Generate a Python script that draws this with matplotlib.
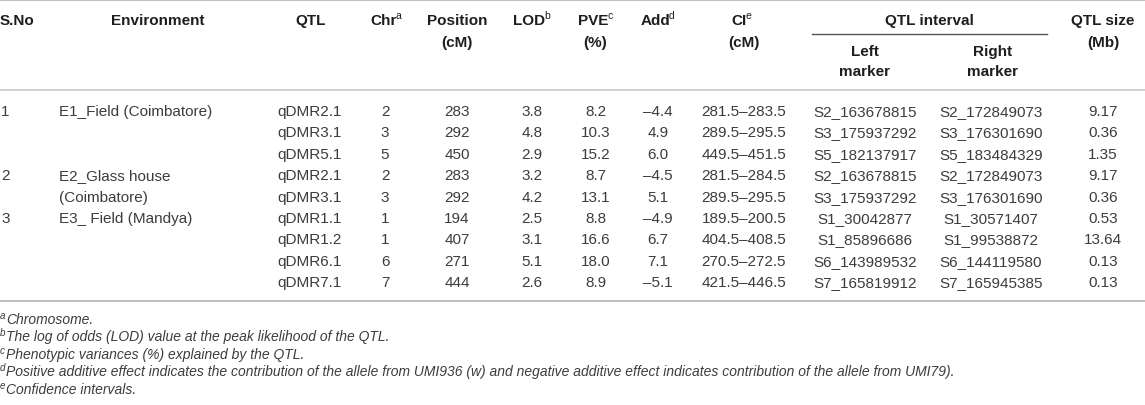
import matplotlib.pyplot as plt

plt.rcParams['font.family'] = ['Liberation Sans', 'DejaVu Sans']

# ---- table data ----
sno = ["1", "", "", "2", "", "3", "", "", ""]
environment = ["E1_Field (Coimbatore)", "", "", "E2_Glass house", "(Coimbatore)",
               "E3_ Field (Mandya)", "", "", ""]
qtl = ["qDMR2.1", "qDMR3.1", "qDMR5.1", "qDMR2.1", "qDMR3.1",
       "qDMR1.1", "qDMR1.2", "qDMR6.1", "qDMR7.1"]
chrom = [2, 3, 5, 2, 3, 1, 1, 6, 7]
position = [283, 292, 450, 283, 292, 194, 407, 271, 444]
lod = [3.8, 4.8, 2.9, 3.2, 4.2, 2.5, 3.1, 5.1, 2.6]
pve = [8.2, 10.3, 15.2, 8.7, 13.1, 8.8, 16.6, 18.0, 8.9]
add = [-4.4, 4.9, 6.0, -4.5, 5.1, -4.9, 6.7, 7.1, -5.1]
ci = ["281.5–283.5", "289.5–295.5", "449.5–451.5", "281.5–284.5", "289.5–295.5",
      "189.5–200.5", "404.5–408.5", "270.5–272.5", "421.5–446.5"]
left_marker = ["S2_163678815", "S3_175937292", "S5_182137917", "S2_163678815",
               "S3_175937292", "S1_30042877", "S1_85896686", "S6_143989532",
               "S7_165819912"]
right_marker = ["S2_172849073", "S3_176301690", "S5_183484329", "S2_172849073",
                "S3_176301690", "S1_30571407", "S1_99538872", "S6_144119580",
                "S7_165945385"]
qtl_size = ["9.17", "0.36", "1.35", "9.17", "0.36", "0.53", "13.64", "0.13", "0.13"]

footnotes = [
    ("a", "Chromosome."),
    ("b", "The log of odds (LOD) value at the peak likelihood of the QTL."),
    ("c", "Phenotypic variances (%) explained by the QTL."),
    ("d", "Positive additive effect indicates the contribution of the allele from UMI936 (w) "
          "and negative additive effect indicates contribution of the allele from UMI79)."),
    ("e", "Confidence intervals."),
]

# ---- canvas in pixel coordinates ----
W, H = 1145, 406
fig = plt.figure(figsize=(W / 100, H / 100), dpi=100)
ax = fig.add_axes([0, 0, 1, 1])
ax.set_xlim(0, W)
ax.set_ylim(H, 0)
ax.axis('off')

fs = 11
data_col = '#3c3c3c'
head_col = '#1e1e1e'
line_col = '#c8c8c8'


def fmt_num(v):
    s = f"{abs(v):.1f}"
    return ("–" + s) if v < 0 else s


# horizontal rules
ax.plot([0, W], [1, 1], color='#b4b4b4', lw=1.2)
ax.plot([0, W], [91, 91], color=line_col, lw=1.2)
ax.plot([0, W], [302, 302], color='#b4b4b4', lw=1.2)
ax.plot([812, 1047], [35, 35], color='#555555', lw=1.0)

# header
hy1, hy2 = 21, 43


def head(x, y, s, ha='center'):
    ax.text(x, y, s, ha=ha, va='center', fontsize=fs, fontweight='bold', color=head_col)


def head_sup(x_end, y, s, sup):
    ax.text(x_end, y, s, ha='right', va='center', fontsize=fs, fontweight='bold', color=head_col)
    ax.text(x_end - 1, y - 5, sup, ha='left', va='center', fontsize=7.5, color=head_col)


head(0, hy1, "S.No", ha='left')
head(158, hy1, "Environment")
head(311, hy1, "QTL")
head_sup(397, hy1, "Chr", "a")
head(457, hy1, "Position")
head(457, hy2, "(cM)")
head_sup(545, hy1, "LOD", "b")
head_sup(608, hy1, "PVE", "c")
head(595, hy2, "(%)")
head_sup(670, hy1, "Add", "d")
head_sup(747, hy1, "CI", "e")
head(744, hy2, "(cM)")
head(929, hy1, "QTL interval")
head(865, 52, "Left")
head(865, 72, "marker")
head(993, 52, "Right")
head(993, 72, "marker")
head(1103, hy1, "QTL size")
head(1103, hy2, "(Mb)")

# body rows
row0, dy = 112, 21.4
for i in range(len(qtl)):
    y = row0 + i * dy
    cells = [
        (1, sno[i], 'left'),
        (59, environment[i], 'left'),
        (310, qtl[i], 'center'),
        (385, str(chrom[i]), 'center'),
        (457, str(position[i]), 'center'),
        (532, f"{lod[i]:.1f}", 'center'),
        (596, f"{pve[i]:.1f}", 'center'),
        (658, fmt_num(add[i]), 'center'),
        (744, ci[i], 'center'),
        (865, left_marker[i], 'center'),
        (991, right_marker[i], 'center'),
        (1103, qtl_size[i], 'center'),
    ]
    for x, s, ha in cells:
        ax.text(x, y, s, ha=ha, va='center', fontsize=fs, color=data_col)

# footnotes
fy0, fdy = 320, 17.5
for j, (sup, txt) in enumerate(footnotes):
    y = fy0 + j * fdy
    ax.text(0, y - 4, sup, ha='left', va='center', fontsize=7, style='italic', color=data_col)
    ax.text(6, y, txt, ha='left', va='center', fontsize=10, style='italic', color=data_col)

fig.savefig('out.png', dpi=100)
